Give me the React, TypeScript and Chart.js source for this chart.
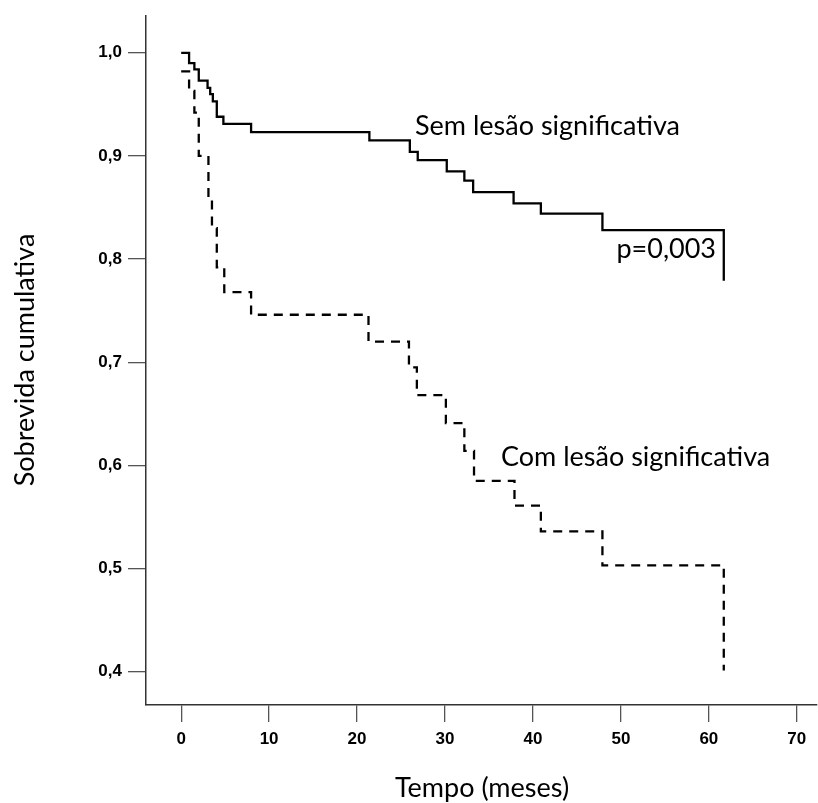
import React, { useEffect, useRef } from "react";
import { Chart, registerables } from "chart.js";

Chart.register(...registerables);

// Kaplan–Meier curve: "Sem lesão significativa" (solid)
const semTimes = [0, 0.9, 1.5, 2.0, 3.0, 3.3, 3.6, 4.05, 4.8, 7.95, 21.4, 26.0, 26.9, 30.2, 32.2, 33.2, 37.8, 40.9, 47.9, 61.7];
const semSurv = [1.0, 0.99, 0.984, 0.973, 0.966, 0.96, 0.953, 0.938, 0.931, 0.923, 0.915, 0.904, 0.896, 0.885, 0.876, 0.865, 0.854, 0.844, 0.828, 0.779];

// Kaplan–Meier curve: "Com lesão significativa" (dashed)
const comTimes = [0, 0.9, 1.5, 2.0, 3.1, 3.5, 4.05, 4.9, 7.95, 21.3, 25.9, 26.8, 30.1, 32.2, 33.3, 37.9, 40.9, 47.9, 61.7];
const comSurv = [0.982, 0.963, 0.942, 0.9, 0.86, 0.83, 0.792, 0.768, 0.746, 0.72, 0.695, 0.668, 0.641, 0.614, 0.585, 0.561, 0.536, 0.503, 0.401];

const xTickValues = [0, 10, 20, 30, 40, 50, 60, 70];
const xTickLabels = ["0", "10", "20", "30", "40", "50", "60", "70"];
const yTickValues = [0.4, 0.5, 0.6, 0.7, 0.8, 0.9, 1.0];
const yTickLabels = ["0,4", "0,5", "0,6", "0,7", "0,8", "0,9", "1,0"];

const seriesNames = ["Sem lesão significativa", "Com lesão significativa"];
const pValueText = "p=0,003";
const xTitle = "Tempo (meses)";
const yTitle = "Sobrevida cumulativa";

export default function App() {
  const ref = useRef<HTMLCanvasElement | null>(null);

  useEffect(() => {
    const canvas = ref.current;
    if (!canvas) return;

    const textPlugin = {
      id: "kmTexts",
      afterDraw(chart: any) {
        const ctx = chart.ctx;
        ctx.save();
        ctx.fillStyle = "#000";
        ctx.font = "27px Lato";
        ctx.textBaseline = "alphabetic";
        ctx.textAlign = "left";
        ctx.fillText(seriesNames[0], 415, 135);
        ctx.fillText(seriesNames[1], 501, 466);
        ctx.textAlign = "right";
        ctx.fillText(pValueText, 716, 258);
        ctx.textAlign = "center";
        ctx.fillText(xTitle, 482, 797);
        ctx.translate(34, 360);
        ctx.rotate(-Math.PI / 2);
        ctx.fillText(yTitle, 0, 0);
        ctx.restore();
      },
    };

    const tickFont = { family: "'Liberation Sans', Arial, sans-serif", size: 17, weight: "bold" as const };

    const chart = new Chart(canvas, {
      type: "line",
      data: {
        datasets: [
          {
            label: seriesNames[0],
            data: semTimes.map((t, i) => ({ x: t, y: semSurv[i] })),
            borderColor: "#000",
            borderWidth: 2.3,
            pointRadius: 0,
            stepped: "before",
            fill: false,
          },
          {
            label: seriesNames[1],
            data: comTimes.map((t, i) => ({ x: t, y: comSurv[i] })),
            borderColor: "#000",
            borderWidth: 2.3,
            borderDash: [9, 7],
            pointRadius: 0,
            stepped: "before",
            fill: false,
          },
        ],
      },
      options: {
        responsive: false,
        animation: false,
        devicePixelRatio: 1,
        layout: { padding: { top: 14, right: 1, left: 0, bottom: 0 } },
        plugins: { legend: { display: false }, tooltip: { enabled: false } },
        scales: {
          x: {
            type: "linear",
            min: -4,
            max: 72.3,
            afterBuildTicks: (s: any) => {
              s.ticks = xTickValues.map((v) => ({ value: v }));
            },
            afterFit: (s: any) => {
              s.height = 98;
            },
            ticks: {
              callback: (_v: any, i: number) => xTickLabels[i],
              font: tickFont,
              color: "#000",
              padding: 7,
              maxRotation: 0,
              autoSkip: false,
            },
            grid: { drawOnChartArea: false, tickLength: 17, color: "#555", lineWidth: 1.3 },
            border: { color: "#333", width: 1.5 },
          },
          y: {
            type: "linear",
            min: 0.3676,
            max: 1.0355,
            afterBuildTicks: (s: any) => {
              s.ticks = yTickValues.map((v) => ({ value: v }));
            },
            afterFit: (s: any) => {
              s.width = 146;
            },
            ticks: {
              callback: (_v: any, i: number) => yTickLabels[i],
              font: tickFont,
              color: "#000",
              padding: 6,
              autoSkip: false,
            },
            grid: { drawOnChartArea: false, tickLength: 18, color: "#555", lineWidth: 1.3 },
            border: { color: "#333", width: 1.5 },
          },
        },
      },
      plugins: [textPlugin],
    } as any);

    return () => chart.destroy();
  }, []);

  return (
    <div style={{ position: "fixed", left: 0, top: 0, width: 818, height: 803, background: "#fff" }}>
      <canvas ref={ref} width={818} height={803} style={{ display: "block", width: 818, height: 803 }} />
    </div>
  );
}
